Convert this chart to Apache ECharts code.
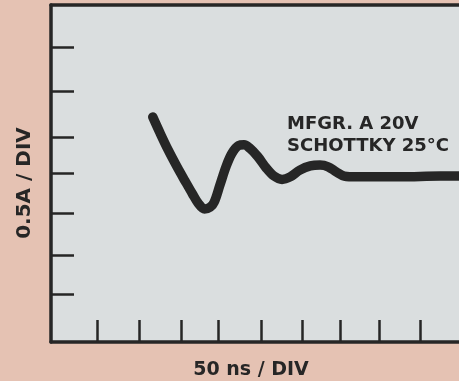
<!DOCTYPE html>
<html>
<head>
<meta charset="utf-8">
<script src="https://cdn.jsdelivr.net/npm/echarts@6/dist/echarts.min.js"></script>
<style>
html,body{margin:0;padding:0;background:#e5c2b3;}
#c{width:459px;height:381px;}
</style>
</head>
<body>
<div id="c"></div>
<script>
// Time (ns) and current (A)
const timeNs   = [126,135,145,156,166,175,182,190,197,202,209,217,224,232,239,246,256,266,276,286,296,308,321,333,343,353,363,378,432,482,505];
const currentA = [2.67,2.48,2.28,2.08,1.91,1.76,1.65,1.58,1.60,1.66,1.86,2.09,2.24,2.33,2.34,2.30,2.20,2.07,1.97,1.93,1.96,2.04,2.09,2.10,2.08,2.02,1.97,1.96,1.96,1.97,1.97];
// hand-drawn division tick positions
const xTicksNs = [57,109,161,207,260,311,358,406,457];
const yTicksA  = [0.57,1.03,1.53,2.0,2.43,2.98,3.5];
const xTitle = '50 ns / DIV';
const yTitle = '0.5A / DIV';
const noteLines = ['MFGR. A 20V', 'SCHOTTKY 25°C'];

const ink = '#262626';
const font = '"DejaVu Sans", sans-serif';
const X_MAX = 505;
const chart = echarts.init(document.getElementById('c'), null, {renderer:'canvas'});
chart.setOption({
  backgroundColor: '#e5c2b3',
  animation: false,
  grid: {left:51, top:5, right:0, bottom:39, show:true, backgroundColor:'#dadedf', borderWidth:0},
  xAxis: [{
    type:'value', min:0, max:X_MAX, position:'bottom',
    axisLine:{show:true, lineStyle:{color:ink, width:3.5}},
    axisTick:{show:true, inside:true, length:22, customValues:xTicksNs, lineStyle:{color:ink, width:2.5}},
    axisLabel:{show:false}, splitLine:{show:false}
  },{
    type:'value', min:0, max:X_MAX, position:'top',
    axisLine:{show:true, lineStyle:{color:ink, width:3.5}},
    axisTick:{show:false}, axisLabel:{show:false}, splitLine:{show:false}
  }],
  yAxis: {
    type:'value', min:0, max:4,
    axisLine:{show:true, lineStyle:{color:ink, width:3.5}},
    axisTick:{show:true, inside:true, length:23, customValues:yTicksA, lineStyle:{color:ink, width:2.5}},
    axisLabel:{show:false}, splitLine:{show:false}
  },
  series: [{
    type:'line', xAxisIndex:0, data: timeNs.map((t,i)=>[t, currentA[i]]),
    showSymbol:false, smooth:0.35,
    lineStyle:{color:ink, width:9.5, cap:'round', join:'round'}
  }],
  graphic: [
    {type:'text', x:25, y:183, rotation:Math.PI/2, style:{text:yTitle, font:'bold 20px '+font, fill:ink, align:'center', verticalAlign:'middle'}},
    {type:'text', x:251, y:370, style:{text:xTitle, font:'bold 19px '+font, fill:ink, align:'center', verticalAlign:'middle'}},
    {type:'text', x:287, y:124, style:{text:noteLines[0], font:'bold 18px '+font, fill:ink, align:'left', verticalAlign:'middle'}},
    {type:'text', x:287, y:146, style:{text:noteLines[1], font:'bold 18px '+font, fill:ink, align:'left', verticalAlign:'middle'}}
  ]
});
</script>
</body>
</html>
